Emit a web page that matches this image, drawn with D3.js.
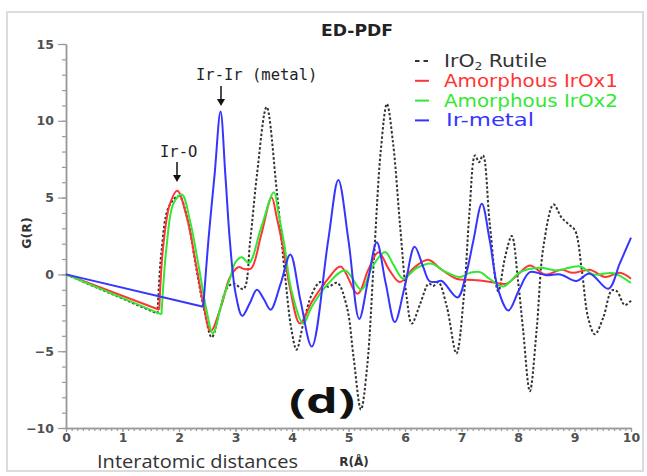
<!DOCTYPE html>
<html>
<head>
<meta charset="utf-8">
<script src="https://cdn.jsdelivr.net/npm/d3@7"></script>
<style>
  html, body { margin: 0; padding: 0; background: #fff; }
  svg { display: block; }
</style>
</head>
<body>
<svg id="chart" width="647" height="476"></svg>
<script>
// [R (Å), G(R)]
const rutile = [[0,0],[1.62,-2.55],
  [1.69,1.5],[1.82,4.4],[2.0,5.1],[2.15,3.6],[2.3,0.5],[2.45,-2.4],[2.58,-4.1],[2.72,-2.4],[2.85,-0.9],
  [2.97,-0.6],[3.14,-0.95],[3.26,2.2],[3.38,6.5],[3.55,10.9],[3.73,5.45],[3.88,-0.2],[3.99,-3.6],
  [4.08,-4.9],[4.2,-3.2],[4.35,-1.3],[4.5,-0.5],[4.64,-0.8],[4.8,-0.55],[4.97,-2.1],[5.09,-5.4],
  [5.22,-8.8],[5.33,-6.0],[5.45,1.0],[5.57,8.0],[5.68,11.1],[5.79,8.5],[5.91,3.3],[6.03,-1.5],
  [6.12,-3.2],[6.27,-1.9],[6.42,-0.6],[6.5,-0.75],[6.59,-0.5],[6.74,-2.1],[6.91,-5.15],[7.04,-1.5],
  [7.14,4.0],[7.24,7.75],[7.31,7.3],[7.38,7.75],[7.5,3.3],[7.65,-1.1],[7.77,1.1],[7.89,2.5],
  [8.0,-0.4],[8.09,-3.6],[8.21,-7.6],[8.33,-3.6],[8.45,1.8],[8.63,4.55],[8.77,3.7],[8.9,3.25],
  [9.01,2.86],[9.13,0.26],[9.24,-2.8],[9.36,-3.9],[9.51,-2.8],[9.66,-1.04],[9.75,-1.1],[9.89,-2.0],[10.0,-1.7]];

const irox1 = [[0,0],[1.65,-2.3],
  [1.72,1.8],[1.84,4.6],[1.97,5.45],[2.14,3.7],[2.31,0.47],[2.43,-1.9],[2.56,-3.7],[2.76,-1.9],
  [2.9,-0.2],[3.05,0.47],[3.16,0.35],[3.28,0.4],[3.45,2.5],[3.64,5.0],[3.73,3.7],[3.85,1.56],
  [3.96,-0.8],[4.14,-3.2],[4.35,-1.8],[4.64,-0.28],[4.86,0.52],[5.16,-1.26],[5.35,0.3],[5.53,1.45],
  [5.72,0.3],[5.91,-0.5],[6.15,0.4],[6.41,0.95],[6.65,0.3],[6.91,-0.28],[7.1,-0.35],[7.33,-0.39],
  [7.62,-0.56],[7.8,-0.6],[8.0,0.0],[8.21,0.58],[8.48,0.0],[8.77,0.3],[8.97,0.1],[9.27,0.3],
  [9.54,-0.17],[9.8,0.1],[10.0,-0.28]];

const irox2 = [[0,0],[1.69,-2.6],
  [1.78,1.8],[1.9,4.6],[2.05,5.2],[2.2,3.4],[2.35,0.5],[2.48,-2.2],[2.6,-3.85],[2.76,-1.8],
  [2.9,-0.3],[3.0,0.8],[3.11,1.12],[3.24,0.75],[3.45,3.0],[3.68,5.35],[3.76,4.0],[3.87,1.8],
  [3.99,-1.04],[4.2,-3.2],[4.35,-2.1],[4.64,-0.6],[4.94,0.26],[5.23,-1.0],[5.42,0.5],[5.65,1.45],
  [5.8,0.6],[5.97,-0.28],[6.2,0.4],[6.47,0.7],[6.7,0.2],[6.97,-0.17],[7.15,0.1],[7.33,0.15],
  [7.5,-0.3],[7.74,-0.78],[8.04,0.15],[8.39,0.43],[8.68,0.26],[9.1,0.52],[9.33,0.0],[9.69,0.08],[10.0,-0.56]];

const irMetal = [[0,0],[2.43,-2.1],
  [2.52,2.2],[2.63,6.5],[2.735,10.6],[2.82,6.5],[2.9,2.2],[3.0,-1.2],[3.12,-2.7],[3.25,-1.9],
  [3.38,-1.0],[3.5,-1.6],[3.62,-2.3],[3.8,-0.6],[3.97,1.3],[4.15,-1.7],[4.35,-4.7],[4.64,2.2],
  [4.82,6.15],[5.0,2.2],[5.19,-2.9],[5.35,-0.3],[5.5,2.1],[5.66,-0.6],[5.82,-3.1],[6.0,-0.7],
  [6.17,1.8],[6.32,0.5],[6.43,-0.43],[6.54,-0.5],[6.65,-0.43],[6.93,-1.5],[7.08,0.0],[7.21,2.2],
  [7.36,4.6],[7.5,2.2],[7.65,-1.0],[7.83,-2.35],[8.02,-1.0],[8.21,0.15],[8.5,-0.05],[8.75,0.0],
  [9.03,-0.43],[9.27,0.05],[9.6,-0.93],[9.8,0.7],[10.0,2.4]];

const seriesNames = ["IrO2 Rutile", "Amorphous IrOx1", "Amorphous IrOx2", "Ir-metal"];
const seriesColors = ["#333333", "#ff3535", "#33e833", "#3535ff"];
const yMajorTicks = [-10, -5, 0, 5, 10, 15];
const xMajorTicks = [0, 1, 2, 3, 4, 5, 6, 7, 8, 9, 10];

const svg = d3.select("#chart");

// light frame around the figure
svg.append("rect")
    .attr("x", 7).attr("y", 12)
    .attr("width", 636).attr("height", 459)
    .attr("fill", "#fff")
    .attr("stroke", "#dcdcdc")
    .attr("stroke-width", 2);

const x = d3.scaleLinear().domain([0, 10]).range([66, 631]);
const y = d3.scaleLinear().domain([-10, 15]).range([428, 44]);

const axisColor = "#9a9a9a";
const tickFont = "'DejaVu Sans', Verdana, sans-serif";

function styleAxis(g, withText) {
    g.select(".domain").attr("stroke", axisColor).attr("stroke-width", 1.5);
    g.selectAll(".tick line").attr("stroke", axisColor).attr("stroke-width", 1.2);
    if (withText) {
        g.selectAll(".tick text")
            .attr("fill", "#505050")
            .attr("font-family", tickFont)
            .attr("font-weight", "bold")
            .attr("font-size", "12.5px");
    }
}

// minor ticks first, majors on top
svg.append("g")
    .attr("transform", "translate(66,0)")
    .call(d3.axisLeft(y).tickValues(d3.range(-10, 16, 1)).tickSize(4).tickSizeOuter(0).tickFormat(""))
    .call(g => styleAxis(g, false));
svg.append("g")
    .attr("transform", "translate(66,0)")
    .call(d3.axisLeft(y).tickValues(yMajorTicks).tickSize(8).tickPadding(4).tickSizeOuter(0))
    .call(g => styleAxis(g, true));

svg.append("g")
    .attr("transform", "translate(0,428)")
    .call(d3.axisBottom(x).tickValues(d3.range(0, 100.5, 1).map(d => d / 10)).tickSize(3).tickSizeOuter(0).tickFormat(""))
    .call(g => styleAxis(g, false));
svg.append("g")
    .attr("transform", "translate(0,428)")
    .call(d3.axisBottom(x).tickValues(xMajorTicks).tickSize(4).tickPadding(1).tickSizeOuter(0).tickFormat(d3.format("d")))
    .call(g => styleAxis(g, true));

// curves: straight segment from the origin, smooth after the first corner
const straight = d3.line().x(d => x(d[0])).y(d => y(d[1]));
const smooth = d3.line().x(d => x(d[0])).y(d => y(d[1])).curve(d3.curveCatmullRom.alpha(0.5));

const plot = svg.append("g");
[rutile, irox1, irox2, irMetal].forEach((pts, i) => {
    const dash = i === 0 ? "2.5,2" : null;
    plot.append("path")
        .attr("d", straight(pts.slice(0, 2)))
        .attr("fill", "none")
        .attr("stroke", seriesColors[i])
        .attr("stroke-width", 2)
        .attr("stroke-dasharray", dash);
    plot.append("path")
        .attr("d", smooth(pts.slice(1)))
        .attr("fill", "none")
        .attr("stroke", seriesColors[i])
        .attr("stroke-width", 2)
        .attr("stroke-dasharray", dash);
});

// title and axis titles
svg.append("text")
    .attr("x", 357).attr("y", 36)
    .attr("text-anchor", "middle")
    .attr("font-family", tickFont).attr("font-weight", "bold").attr("font-size", "15px")
    .attr("fill", "#222")
    .attr("textLength", 72).attr("lengthAdjust", "spacingAndGlyphs")
    .text("ED-PDF");

svg.append("text")
    .attr("transform", "translate(31,233) rotate(-90)")
    .attr("text-anchor", "middle")
    .attr("font-family", tickFont).attr("font-weight", "bold").attr("font-size", "12.5px")
    .attr("fill", "#333")
    .text("G(R)");

svg.append("text")
    .attr("x", 354).attr("y", 466)
    .attr("text-anchor", "middle")
    .attr("font-family", tickFont).attr("font-weight", "bold").attr("font-size", "12px")
    .attr("fill", "#333")
    .text("R(Å)");

svg.append("text")
    .attr("x", 97).attr("y", 468)
    .attr("font-family", "'Open Sans', sans-serif").attr("font-size", "18px")
    .attr("fill", "#333")
    .attr("textLength", 201).attr("lengthAdjust", "spacingAndGlyphs")
    .text("Interatomic distances");

svg.append("text")
    .attr("x", 289).attr("y", 413)
    .attr("font-family", "'Open Sans', sans-serif").attr("font-weight", "bold").attr("font-size", "34px")
    .attr("fill", "#111")
    .attr("textLength", 66).attr("lengthAdjust", "spacingAndGlyphs")
    .text("(d)");

// peak annotations with arrows
const annoFont = "'DejaVu Sans Mono', monospace";
const annotations = [
    { label: "Ir-O", tx: 160, ty: 157, ax: 177, ay1: 162, ay2: 182 },
    { label: "Ir-Ir (metal)", tx: 196, ty: 80, ax: 221, ay1: 86, ay2: 106 }
];
annotations.forEach(a => {
    svg.append("text")
        .attr("x", a.tx).attr("y", a.ty)
        .attr("font-family", annoFont).attr("font-size", "15.5px")
        .attr("fill", "#222")
        .text(a.label);
    svg.append("line")
        .attr("x1", a.ax).attr("x2", a.ax)
        .attr("y1", a.ay1).attr("y2", a.ay2 - 4)
        .attr("stroke", "#111").attr("stroke-width", 1.5);
    svg.append("path")
        .attr("d", `M${a.ax - 4},${a.ay2 - 7} L${a.ax + 4},${a.ay2 - 7} L${a.ax},${a.ay2} Z`)
        .attr("fill", "#111");
});

// legend
const legendWidths = [103, 174, 174, 88];
const legend = svg.append("g").attr("transform", "translate(415,67)");
seriesNames.forEach((name, i) => {
    const row = legend.append("g").attr("transform", `translate(0,${i * 19.8})`);
    row.append("line")
        .attr("x1", 0).attr("x2", i === 0 ? 13 : 14)
        .attr("y1", -6).attr("y2", -6)
        .attr("stroke", seriesColors[i])
        .attr("stroke-width", 2)
        .attr("stroke-dasharray", i === 0 ? "4.5,4" : null);
    const t = row.append("text")
        .attr("x", i === 3 ? 31 : 29).attr("y", 0)
        .attr("font-family", tickFont).attr("font-size", "17.5px")
        .attr("fill", i === 0 ? "#333" : seriesColors[i])
        .attr("textLength", legendWidths[i]).attr("lengthAdjust", "spacingAndGlyphs");
    if (i === 0) {
        t.append("tspan").text("IrO");
        t.append("tspan").attr("font-size", "10.5px").attr("dy", 3).text("2");
        t.append("tspan").attr("dy", -3).text(" Rutile");
    } else {
        t.text(name);
    }
});
</script>
</body>
</html>
